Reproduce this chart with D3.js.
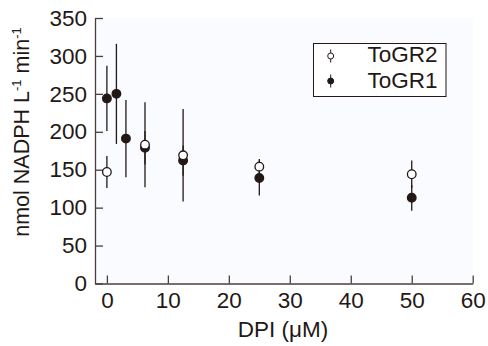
<!DOCTYPE html>
<html>
<head>
<meta charset="utf-8">
<script src="https://cdn.jsdelivr.net/npm/d3@7"></script>
<style>
  body { margin: 0; background: #fff; }
  svg { display: block; font-family: "Liberation Sans", Arial, Helvetica, sans-serif; }
</style>
</head>
<body>
<div id="chart"></div>
<script>
// DPI concentration (µM)
const dpiTogr1 = [0, 1.5625, 3.125, 6.25, 12.5, 25, 50];
const togr1Mean = [244, 250, 191, 179, 162, 139, 113];
const togr1Err = [43, 66, 51, 22, 20, 23, 17];

const dpiTogr2 = [0, 6.25, 12.5, 25, 50];
const togr2Mean = [147, 183, 169, 154, 144];
const togr2Err = [21, 56, 61, 10, 18];

const xTicks = [0, 10, 20, 30, 40, 50, 60];
const yTicks = [0, 50, 100, 150, 200, 250, 300, 350];

const width = 488, height = 346;
const margin = { top: 18, right: 15.3, bottom: 62.5, left: 95 };
const ink = '#231815';
const fontSize = '22.5px';

const svg = d3.select('#chart').append('svg')
    .attr('width', width)
    .attr('height', height);

const x = d3.scaleLinear().domain([-1.95, 60]).range([margin.left, width - margin.right]);
const y = d3.scaleLinear().domain([0, 350]).range([height - margin.bottom, margin.top]);

// light plot background
svg.append('rect')
    .attr('x', margin.left)
    .attr('y', margin.top)
    .attr('width', width - margin.right - margin.left)
    .attr('height', height - margin.bottom - margin.top)
    .attr('fill', '#f9fbfe');

// axes, ticks pointing inwards
const xAxis = svg.append('g')
    .attr('transform', `translate(0,${height - margin.bottom})`)
    .call(d3.axisBottom(x).tickValues(xTicks).tickSizeInner(-8).tickSizeOuter(0).tickPadding(9));

const yAxis = svg.append('g')
    .attr('transform', `translate(${margin.left},0)`)
    .call(d3.axisLeft(y).tickValues(yTicks).tickSizeInner(-8).tickSizeOuter(0).tickPadding(8));

[xAxis, yAxis].forEach(g => {
    g.select('.domain').attr('stroke', '#4a3f3d').attr('stroke-width', 1.3);
    g.selectAll('.tick line').attr('stroke', '#4a3f3d').attr('stroke-width', 1.3);
    g.selectAll('.tick text')
        .attr('fill', ink)
        .style('font-size', fontSize)
        .style('font-family', '"Liberation Sans", Arial, sans-serif');
});

// axis titles
svg.append('text')
    .attr('x', 283)
    .attr('y', 336.5)
    .attr('text-anchor', 'middle')
    .attr('fill', ink)
    .style('font-size', fontSize)
    .text('DPI (μM)');

const yTitle = svg.append('text')
    .attr('transform', 'translate(28.5,132) rotate(-90)')
    .attr('text-anchor', 'middle')
    .attr('fill', ink)
    .style('font-size', '21.5px');
yTitle.append('tspan').text('nmol NADPH L');
yTitle.append('tspan').attr('dy', -8).style('font-size', '13px').text('-1');
yTitle.append('tspan').attr('dy', 8).text(' min');
yTitle.append('tspan').attr('dy', -8).style('font-size', '13px').text('-1');

// series
const drawSeries = (xs, means, errs, filled) => {
    const pts = xs.map((d, i) => ({ x: d, m: means[i], e: errs[i] }));
    const g = svg.append('g');
    g.selectAll('line')
        .data(pts)
        .enter()
        .append('line')
        .attr('x1', d => x(d.x))
        .attr('x2', d => x(d.x))
        .attr('y1', d => y(d.m - d.e))
        .attr('y2', d => y(d.m + d.e))
        .attr('stroke', ink)
        .attr('stroke-width', 1.3);
    g.selectAll('circle')
        .data(pts)
        .enter()
        .append('circle')
        .attr('cx', d => x(d.x))
        .attr('cy', d => y(d.m))
        .attr('r', 4.3)
        .attr('fill', filled ? ink : '#fff')
        .attr('stroke', ink)
        .attr('stroke-width', 1.3);
};

drawSeries(dpiTogr1, togr1Mean, togr1Err, true);
drawSeries(dpiTogr2, togr2Mean, togr2Err, false);

// legend
const legend = svg.append('g');
legend.append('rect')
    .attr('x', 313.5)
    .attr('y', 43.5)
    .attr('width', 132.5)
    .attr('height', 53)
    .attr('fill', '#fff')
    .attr('stroke', ink)
    .attr('stroke-width', 1);

const legendItems = [
    { label: 'ToGR2', filled: false, cy: 56, base: 61.9 },
    { label: 'ToGR1', filled: true, cy: 81, base: 87.5 }
];
legendItems.forEach(it => {
    legend.append('line')
        .attr('x1', 330.7).attr('x2', 330.7)
        .attr('y1', it.cy - 6.5).attr('y2', it.cy + 6.5)
        .attr('stroke', ink).attr('stroke-width', 1);
    legend.append('circle')
        .attr('cx', 330.7).attr('cy', it.cy).attr('r', 3)
        .attr('fill', it.filled ? ink : '#fff')
        .attr('stroke', ink).attr('stroke-width', 1);
    legend.append('text')
        .attr('x', 367.5).attr('y', it.base)
        .attr('fill', ink)
        .style('font-size', fontSize)
        .text(it.label);
});
</script>
</body>
</html>
